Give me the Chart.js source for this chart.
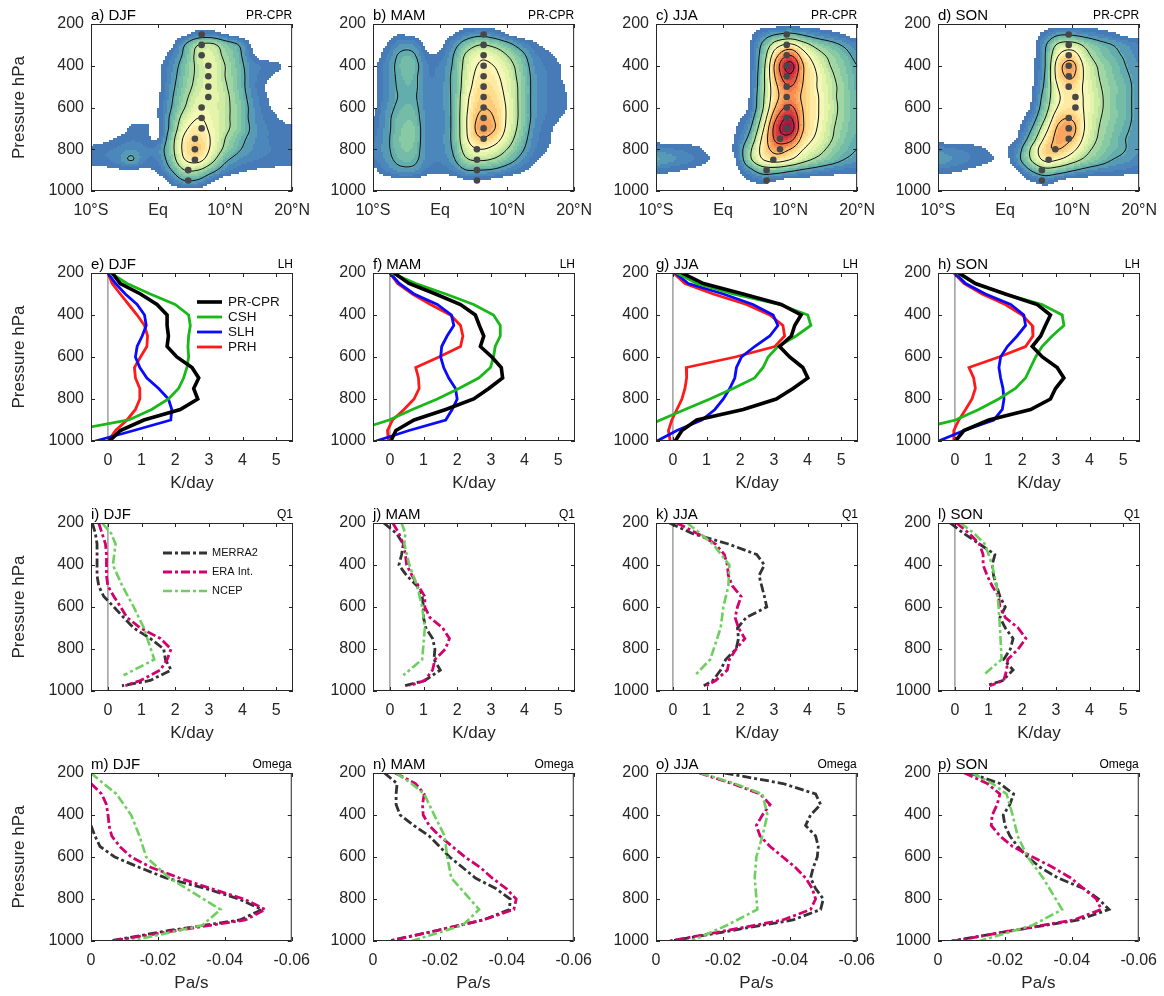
<!DOCTYPE html>
<html>
<head>
<meta charset="utf-8">
<title>PR-CPR, LH, Q1 and Omega profiles</title>
<script src="https://cdn.jsdelivr.net/npm/chart.js"></script>
<style>
  body { margin: 0; width: 1164px; height: 996px; overflow: hidden; background: #fff; position: relative; }
  canvas { position: absolute; }
</style>
</head>
<body>
<script>
// ---------------- data ----------------
const seasons = ['DJF', 'MAM', 'JJA', 'SON'];
const latGrid = [-10, -8, -6, -4, -2, 0, 2, 4, 6, 8, 10, 12, 14, 16, 18, 20];
const pLevels = [200, 250, 300, 350, 400, 450, 500, 550, 600, 650, 700, 750, 800, 850, 900, 950, 1000];

// PR-CPR heating (K/day), rows = pLevels, columns = latGrid
const fieldDJF = [
  [0,0,0,0,0,0,0,0,0,0,0,0,0,0,0,0],
  [0,0,0,0,0,0,0,0.1,0.5,0.5,0.2,0,0,0,0,0],
  [0,0,0,0,0,0,0.1,1.0,2.0,2.2,1.5,1.0,0.15,0,0,0],
  [0,0,0,0,0,0,0.4,1.2,2.3,2.5,1.8,1.2,0.3,0,0,0],
  [0,0,0,0,0,0.1,0.6,1.4,2.2,2.6,2.0,1.3,0.6,0.4,0.25,0],
  [0,0,0,0,0,0.1,0.7,1.5,2.2,2.6,2.0,1.4,0.6,0.3,0.1,0],
  [0,0,0,0,0,0.1,0.8,1.6,2.3,2.6,2.1,1.4,0.6,0.2,0,0],
  [0,0,0,0,0,0.15,0.9,1.8,2.5,2.6,2.2,1.5,0.7,0.25,0.05,0],
  [0,0,0,0,0,0.2,1.0,2.0,2.7,2.6,2.2,1.6,0.8,0.3,0.1,0],
  [0,0,0,0.1,0.1,0.2,1.2,2.4,3.0,2.7,2.2,1.6,0.8,0.4,0.2,0.1],
  [0,0,0,0.25,0.3,0.15,1.3,2.8,3.3,2.8,2.2,1.6,0.9,0.5,0.3,0.25],
  [0,0.1,0.25,0.4,0.35,0.2,1.6,3.2,3.6,2.9,2.0,1.3,0.8,0.5,0.3,0.3],
  [0.3,0.4,0.5,0.7,0.5,0.6,1.7,3.3,3.8,2.8,1.8,1.1,0.7,0.5,0.4,0.3],
  [0.3,0.4,0.6,1.05,0.5,0.5,1.5,3.0,3.3,2.3,1.2,0.7,0.5,0.4,0.3,0.3],
  [0.1,0.1,0.15,0.15,0.15,0.3,1.0,2.0,2.0,1.3,0.6,0.3,0.2,0.15,0.15,0.15],
  [0,0,0,0,0,0,0.4,1.0,0.9,0.3,0,0,0,0,0,0],
  [0,0,0,0,0,0,0,0,0,0,0,0,0,0,0,0]
];
const fieldMAM = [
  [0,0,0,0,0,0,0,0,0,0,0,0,0,0,0,0],
  [0,0,0.2,0.1,0,0,0.2,0.6,0.8,0.6,0.2,0,0,0,0,0],
  [0,0.2,0.7,0.7,0.1,0.1,0.7,1.5,2.0,1.8,1.3,0.7,0.3,0.1,0,0],
  [0,0.4,1.1,1.1,0.3,0.3,1.0,2.2,2.8,2.6,2.0,1.3,0.55,0.3,0.1,0],
  [0.1,0.6,1.2,1.3,0.5,0.5,1.1,2.4,3.1,3.0,2.4,1.6,0.7,0.4,0.2,0],
  [0.1,0.6,1.15,1.2,0.5,0.55,1.2,2.5,3.3,3.2,2.6,1.7,0.8,0.45,0.2,0],
  [0.1,0.6,1.1,1.15,0.6,0.6,1.2,2.6,3.5,3.4,2.7,1.8,0.8,0.45,0.3,0],
  [0.1,0.6,1.05,1.1,0.6,0.6,1.2,2.8,3.7,3.6,2.8,1.8,0.8,0.45,0.35,0],
  [0.1,0.7,1.15,1.2,0.6,0.6,1.2,2.9,3.9,3.8,2.9,1.8,0.8,0.45,0.35,0],
  [0.2,0.8,1.3,1.35,0.6,0.6,1.2,3.0,4.2,4.0,2.9,1.8,0.8,0.4,0.2,0],
  [0.3,0.8,1.4,1.5,0.6,0.6,1.2,3.0,4.4,4.1,2.8,1.7,0.7,0.3,0.1,0],
  [0.4,0.85,1.45,1.5,0.6,0.6,1.2,2.9,3.9,3.5,2.5,1.5,0.6,0.3,0,0],
  [0.5,0.85,1.4,1.4,0.6,0.6,1.1,2.5,3.0,2.7,2.0,1.2,0.5,0.2,0,0],
  [0.4,0.75,1.2,1.2,0.6,0.5,0.9,1.9,2.1,1.9,1.4,0.8,0.3,0.1,0,0],
  [0.1,0.5,0.8,0.8,0.4,0.3,0.5,1.0,1.0,0.9,0.6,0.3,0.1,0,0,0],
  [0,0,0.1,0.1,0,0,0,0.15,0.15,0.1,0,0,0,0,0,0],
  [0,0,0,0,0,0,0,0,0,0,0,0,0,0,0,0]
];
const fieldJJA = [
  [0,0,0,0,0,0,0,0,0,0,0,0,0,0,0,0],
  [0,0,0,0,0,0,0,0.1,0.6,1.0,1.2,0.9,0.6,0.4,0.2,0],
  [0,0,0,0,0,0,0,0.2,1.2,2.6,3.2,2.4,1.7,1.3,0.9,0.5],
  [0,0,0,0,0,0,0,0.2,1.5,3.8,5.0,3.4,2.4,1.8,1.3,0.8],
  [0,0,0,0,0,0,0,0.2,1.7,4.5,6.4,4.0,2.8,2.0,1.5,1.0],
  [0,0,0,0,0,0,0,0.2,1.8,4.3,5.8,4.0,3.0,2.2,1.6,1.1],
  [0,0,0,0,0,0,0,0.2,1.8,3.9,5.0,3.9,3.0,2.3,1.7,1.1],
  [0,0,0,0,0,0,0,0.25,1.9,3.8,4.6,3.8,3.1,2.3,1.7,1.2],
  [0,0,0,0,0,0,0,0.3,2.0,4.2,5.2,3.9,3.1,2.4,1.7,1.2],
  [0,0,0,0,0,0,0.1,0.6,2.4,5.0,6.1,4.0,3.1,2.3,1.7,1.2],
  [0,0,0,0,0,0,0.2,0.9,2.9,5.6,6.5,4.0,3.0,2.2,1.6,1.2],
  [0,0,0,0,0,0,0.3,1.3,3.3,5.3,5.4,3.6,2.8,2.1,1.5,1.1],
  [0.6,0.5,0.4,0.3,0.1,0,0.4,1.8,3.4,4.4,4.0,3.0,2.4,1.8,1.3,1.0],
  [1.0,0.8,0.6,0.4,0.2,0,0.25,1.8,3.0,3.4,3.0,2.3,1.8,1.4,1.0,0.8],
  [0.4,0.3,0.2,0.1,0,0,0.1,0.8,1.5,1.5,1.2,0.9,0.7,0.5,0.4,0.3],
  [0,0,0,0,0,0,0,0.2,0.4,0.2,0,0,0,0,0,0],
  [0,0,0,0,0,0,0,0,0,0,0,0,0,0,0,0]
];
const fieldSON = [
  [0,0,0,0,0,0,0,0,0,0,0,0,0,0,0,0],
  [0,0,0,0,0,0,0,0,0.4,0.9,0.9,0.7,0.5,0.3,0.1,0],
  [0,0,0,0,0,0,0,0,0.9,2.2,2.4,1.8,1.3,1.0,0.7,0.5],
  [0,0,0,0,0,0,0,0.05,1.0,3.0,3.5,2.3,1.6,1.2,0.9,0.6],
  [0,0,0,0,0,0,0,0.1,1.0,3.6,4.3,2.7,1.9,1.4,1.0,0.7],
  [0,0,0,0,0,0,0,0.1,1.1,3.5,4.1,2.8,2.0,1.5,1.1,0.8],
  [0,0,0,0,0,0,0,0.15,1.2,3.1,3.6,2.8,2.1,1.6,1.2,0.8],
  [0,0,0,0,0,0,0,0.2,1.4,2.9,3.3,2.9,2.2,1.6,1.2,0.8],
  [0,0,0,0,0,0,0,0.3,1.6,3.1,3.4,2.9,2.2,1.6,1.2,0.8],
  [0,0,0,0,0,0,0.05,0.6,2.0,3.7,3.9,2.9,2.1,1.6,1.2,0.8],
  [0,0,0,0,0,0,0.15,1.0,2.6,4.2,4.3,2.9,2.0,1.5,1.1,0.8],
  [0,0,0,0,0,0.05,0.3,1.5,3.2,4.3,4.0,2.7,1.9,1.4,1.0,0.8],
  [0.6,0.5,0.4,0.3,0.15,0.15,0.7,2.2,3.7,4.0,3.3,2.3,1.7,1.3,1.0,0.7],
  [0.9,0.7,0.5,0.35,0.22,0.05,0.8,2.1,3.2,3.0,2.4,1.8,1.4,1.0,0.8,0.6],
  [0.4,0.3,0.2,0.1,0,0,0.25,1.1,1.7,1.5,1.1,0.8,0.6,0.5,0.4,0.3],
  [0,0,0,0,0,0,0,0.25,0.5,0.2,0,0,0,0,0,0],
  [0,0,0,0,0,0,0,0,0,0,0,0,0,0,0,0]
];

// latitude of the maximum at each level (grey dots)
const dotLevels = [250, 300, 350, 400, 450, 500, 550, 600, 650, 700, 750, 800, 850, 900, 950];
const dotLatDJF = [6.5, 6.5, 6.5, 7.5, 7.5, 7.5, 7.5, 6.5, 6.5, 6.5, 5.5, 5.5, 5.5, 4.5, 4.5];
const dotLatMAM = [6.5, 6.5, 6.5, 6.5, 6.5, 6.5, 6.5, 6.5, 6.5, 6.5, 6.5, 5.5, 5.5, 5.5, 5.5];
const dotLatJJA = [9.5, 9.5, 9.5, 9.5, 9.5, 9.5, 9.5, 9.5, 9.5, 9.5, 8.5, 8.5, 7.5, 6.5, 6.5];
const dotLatSON = [9.5, 9.5, 9.5, 9.5, 9.5, 9.5, 10.5, 10.5, 9.5, 9.5, 9.5, 7.5, 6.5, 5.5, 5.5];

// latent heating profiles (K/day) on pLevels
const lhLabels = ['PR-CPR', 'CSH', 'SLH', 'PRH'];
const prcprDJF = [0.13,0.37,0.97,1.46,1.76,1.76,1.8,1.76,2.05,2.5,2.7,2.55,2.67,2.15,1.07,0.37,0.05];
const cshDJF   = [0.08,0.57,1.26,2.0,2.4,2.45,2.4,2.38,2.4,2.35,2.25,2.1,1.8,1.3,0.62,-1.1,null];
const slhDJF   = [0,0.23,0.52,0.87,1.09,1.14,1.02,0.87,0.82,0.95,1.16,1.51,1.8,1.9,1.87,0.77,-0.37];
const prhDJF   = [0,0.13,0.37,0.62,0.87,1.09,1.18,1.16,0.97,0.79,0.82,0.95,0.95,0.82,0.57,0.23,0.01];
const prcprMAM = [0.13,0.57,1.36,2.1,2.54,2.66,2.79,2.69,3.03,3.31,3.35,2.94,2.49,1.66,0.72,0.18,0.03];
const cshMAM   = [0.05,0.77,1.66,2.49,3.08,3.28,3.28,3.13,3.08,2.99,2.64,2.05,1.41,0.67,-0.02,-1.0,null];
const slhMAM   = [0,0.28,0.72,1.41,1.83,1.9,1.7,1.54,1.51,1.6,1.75,1.95,2.0,1.85,1.66,0.57,-0.41];
const prhMAM   = [0,0.23,0.67,1.21,1.8,2.1,2.17,2.1,1.46,0.77,0.85,0.87,0.72,0.42,0.08,-0.07,-0.04];
const prcprJJA = [0.27,0.91,2.09,3.22,3.81,3.62,3.52,3.17,3.47,3.86,4.01,3.57,3.07,2.09,0.71,0.27,0.07];
const cshJJA   = [0.12,0.71,1.79,3.17,4.01,4.1,3.66,3.12,2.83,2.68,2.43,1.79,1.1,0.36,-0.37,-1.1,null];
const slhJJA   = [0.07,0.46,1.5,2.38,2.98,3.12,2.88,2.43,2.04,1.89,1.84,1.69,1.5,1.25,0.86,0.12,-0.47];
const prhJJA   = [0.02,0.36,1.2,2.19,2.88,3.27,3.32,3.03,1.85,0.4,0.41,0.36,0.27,0.12,-0.03,-0.13,-0.08];
const prcprSON = [0.12,0.61,1.5,2.45,2.84,2.69,2.55,2.3,2.6,3.04,3.24,2.99,2.84,2.25,1.01,0.27,0.02];
const cshSON   = [0.07,0.61,1.5,2.59,3.19,3.24,2.89,2.59,2.4,2.25,2.1,1.8,1.3,0.71,0.02,-1.28,null];
const slhSON   = [0,0.32,0.91,1.66,2.05,2.1,1.85,1.56,1.36,1.31,1.36,1.43,1.46,1.41,1.16,0.27,-0.48];
const prhSON   = [-0.03,0.27,0.81,1.5,2.0,2.3,2.32,2.1,1.31,0.42,0.56,0.61,0.51,0.32,0.12,-0.03,-0.03];

// reanalysis Q1 (K/day) and omega (Pa/s)
const reanLabels = ['MERRA2', 'ERA Int.', 'NCEP'];
const q1Levels = [200, 250, 300, 350, 400, 450, 500, 550, 600, 650, 700, 750, 800, 850, 900, 950, 975];
const ncepLevels = [200, 250, 300, 400, 500, 600, 700, 850, 925];
const ncepOmegaLevels = [200, 250, 300, 400, 500, 600, 700, 850, 925, 1000];

const merraQ1DJF = [-0.46,-0.37,-0.32,-0.32,-0.32,-0.32,-0.27,-0.12,0.18,0.47,0.77,1.26,1.66,1.71,1.88,1.26,0.42];
const eraQ1DJF   = [-0.27,-0.17,-0.07,-0.04,-0.04,-0.04,0,0.18,0.38,0.57,0.97,1.56,1.88,1.76,1.56,0.97,0.52];
const ncepQ1DJF  = [-0.17,0.1,0.23,0.15,0.43,0.77,1.07,1.38,0.47];
const merraQ1MAM = [-0.18,0.2,0.4,0.35,0.27,0.5,0.81,0.96,1.0,1.0,1.07,1.27,1.34,1.31,1.5,1.04,0.43];
const eraQ1MAM   = [0.09,0.27,0.4,0.46,0.5,0.66,0.85,1.04,1.04,1.19,1.57,1.77,1.65,1.34,1.27,1.04,0.58];
const ncepQ1MAM  = [0.35,0.46,0.43,0.58,0.81,0.96,1.04,0.96,0.4];
const merraQ1JJA = [-0.1,0.58,1.65,2.49,2.72,2.56,2.64,2.72,2.79,2.18,1.92,1.95,1.88,1.57,1.42,1.19,0.92];
const eraQ1JJA   = [0.12,0.73,1.27,1.53,1.62,1.65,1.77,2.03,1.92,1.85,1.95,2.14,1.88,1.68,1.62,1.27,1.0];
const ncepQ1JJA  = [0.43,0.81,1.19,1.68,1.65,1.5,1.42,1.11,0.66];
const merraQ1SON = [-0.14,0.27,0.73,1.19,1.11,1.15,1.24,1.34,1.5,1.34,1.5,1.73,1.65,1.45,1.73,1.42,0.93];
const eraQ1SON   = [0.05,0.43,0.73,0.84,0.84,0.96,1.11,1.3,1.34,1.5,1.88,2.11,1.88,1.57,1.54,1.45,1.04];
const ncepQ1SON  = [0.17,0.58,0.89,1.11,1.24,1.3,1.34,1.39,0.84];

const merraOmDJF = [null,null,null,null,null,0,-0.0012,-0.0027,-0.0071,-0.0145,-0.0224,-0.0343,-0.0442,-0.0511,-0.0445,-0.0234,-0.0056];
const eraOmDJF   = [null,0,-0.0032,-0.0046,-0.0051,-0.0054,-0.0062,-0.0086,-0.012,-0.018,-0.0264,-0.0358,-0.0457,-0.0521,-0.0461,-0.0254,-0.0061];
const ncepOmDJF  = [0,-0.0037,-0.0076,-0.012,-0.0145,-0.0165,-0.0234,-0.0387,-0.0333,-0.012];
const merraOmMAM = [-0.0034,-0.0072,-0.0069,-0.0069,-0.0081,-0.0122,-0.0168,-0.0199,-0.0229,-0.0268,-0.0306,-0.0367,-0.041,-0.0408,-0.0329,-0.0191,-0.0046];
const eraOmMAM   = [-0.0066,-0.0127,-0.0153,-0.0148,-0.015,-0.0168,-0.0199,-0.0237,-0.0275,-0.0321,-0.0356,-0.0398,-0.0428,-0.0421,-0.0329,-0.0191,-0.005];
const ncepOmMAM  = [-0.0069,-0.0115,-0.0153,-0.0183,-0.0214,-0.0222,-0.0234,-0.0317,-0.0268,-0.0115];
const merraOmJJA = [-0.0205,-0.0379,-0.0477,-0.0492,-0.0462,-0.0447,-0.0477,-0.0485,-0.0482,-0.047,-0.0462,-0.0477,-0.05,-0.0492,-0.0409,-0.0227,-0.0045];
const eraOmJJA   = [-0.0129,-0.0227,-0.0311,-0.0341,-0.0318,-0.03,-0.0311,-0.0341,-0.0379,-0.0417,-0.0447,-0.0467,-0.0477,-0.0462,-0.0379,-0.0212,-0.0042];
const ncepOmJJA  = [-0.0133,-0.0235,-0.0318,-0.0333,-0.0318,-0.03,-0.0295,-0.0303,-0.0212,-0.0106];
const merraOmSON = [-0.0094,-0.0185,-0.0226,-0.0215,-0.0195,-0.02,-0.0215,-0.0238,-0.0268,-0.0306,-0.0359,-0.0435,-0.048,-0.0511,-0.042,-0.0223,-0.0041];
const eraOmSON   = [-0.0079,-0.0147,-0.0185,-0.0177,-0.0162,-0.0159,-0.0185,-0.0223,-0.0283,-0.0344,-0.0397,-0.0435,-0.0473,-0.0488,-0.0405,-0.0223,-0.0048];
const ncepOmSON  = [-0.0102,-0.0162,-0.0205,-0.0223,-0.0238,-0.0268,-0.0314,-0.0371,-0.0283,-0.0124];

// ticks
const pressureTicks = [200, 400, 600, 800, 1000];
const pressureTickLabels = ['200', '400', '600', '800', '1000'];
const latTicks = [-10, 0, 10, 20];
const latTickLabels = ['10°S', 'Eq', '10°N', '20°N'];
const heatTicks = [0, 1, 2, 3, 4, 5];
const heatTickLabels = ['0', '1', '2', '3', '4', '5'];
const omegaTicks = [0, -0.02, -0.04, -0.06];
const omegaTickLabels = ['0', '-0.02', '-0.04', '-0.06'];

// ---------------- styles / layout ----------------
const FONT = '"Liberation Sans", Arial, Helvetica, sans-serif';
const TXT = '#262626';
const colLeft = [91, 373, 656, 938];
const rowTop = [24, 273, 523, 773];
const rowPlotH = [167, 168, 168, 168];
const AXIS_W = 91, XAXIS_H = 56, TOP_PAD = 24, CANVAS_W = 320, PLOT_W = 202;

const rampStops = [0.2, 0.6, 1.0, 1.5, 2.0, 2.5, 3.0, 3.5, 4.0, 4.5, 5.0, 5.5, 6.0, 6.5];
const rampRGB = [[69,117,180],[76,136,189],[94,168,176],[128,199,164],[176,222,163],[224,243,166],
  [253,250,192],[254,226,146],[252,191,111],[248,150,86],[238,106,66],[219,66,60],[194,36,70],[165,15,70]];
const FILL_MIN = 0.2, FILL_STEP = 0.25;
const contourLevels = [1, 2, 3, 4, 5, 6];

const lhStyles = [
  { color: '#000000', width: 3.6 },
  { color: '#17b817', width: 2.8 },
  { color: '#0a0aff', width: 2.8 },
  { color: '#ff1a1a', width: 2.8 }
];
const reanStyles = [
  { color: '#333333', width: 2.8, dash: [9, 3, 3, 3] },
  { color: '#d4006e', width: 2.8, dash: [9, 3, 3, 3] },
  { color: '#6dd05e', width: 2.6, dash: [9, 3, 3, 3] }
];

function rampColor(v) {
  let c = rampRGB[rampRGB.length - 1];
  if (v <= rampStops[0]) c = rampRGB[0];
  else {
    for (let k = 1; k < rampStops.length; k++) {
      if (v <= rampStops[k]) {
        const t = (v - rampStops[k - 1]) / (rampStops[k] - rampStops[k - 1]);
        const a = rampRGB[k - 1], b = rampRGB[k];
        c = [0, 1, 2].map(i => Math.round(a[i] + (b[i] - a[i]) * t));
        break;
      }
    }
  }
  return 'rgb(' + c.join(',') + ')';
}

function cubic(p0, p1, p2, p3, t) {
  return p1 + 0.5 * t * (p2 - p0 + t * (2 * p0 - 5 * p1 + 4 * p2 - p3 + t * (3 * (p1 - p2) + p3 - p0)));
}

// smooth sample of a gridded field at (lat, p)
function sampleField(grid, lat, p) {
  const nr = grid.length, nc = grid[0].length;
  const fx = (lat - latGrid[0]) / (latGrid[1] - latGrid[0]);
  const fy = (p - pLevels[0]) / (pLevels[1] - pLevels[0]);
  const ix = Math.floor(fx), iy = Math.floor(fy);
  const tx = fx - ix, ty = fy - iy;
  const get = (r, c) => grid[Math.max(0, Math.min(nr - 1, r))][Math.max(0, Math.min(nc - 1, c))];
  const rows = [];
  for (let m = -1; m <= 2; m++) {
    rows.push(cubic(get(iy + m, ix - 1), get(iy + m, ix), get(iy + m, ix + 1), get(iy + m, ix + 2), tx));
  }
  return cubic(rows[0], rows[1], rows[2], rows[3], ty);
}

const fieldPlugin = {
  id: 'field',
  beforeDatasetsDraw(chart, args, opts) {
    if (!opts.grid) return;
    const { ctx, chartArea: a, scales: { x, y } } = chart;
    const step = 2;
    const nx = Math.ceil(a.width / step) + 1, ny = Math.ceil(a.height / step) + 1;
    const vals = [];
    for (let j = 0; j < ny; j++) {
      const p = y.getValueForPixel(Math.min(a.top + j * step, a.bottom));
      const row = [];
      for (let i = 0; i < nx; i++) {
        const lat = x.getValueForPixel(Math.min(a.left + i * step, a.right));
        row.push(sampleField(opts.grid, lat, p));
      }
      vals.push(row);
    }
    ctx.save();
    ctx.beginPath();
    ctx.rect(a.left, a.top, a.width, a.height);
    ctx.clip();
    for (let j = 0; j < ny - 1; j++) {
      for (let i = 0; i < nx - 1; i++) {
        const v = (vals[j][i] + vals[j][i + 1] + vals[j + 1][i] + vals[j + 1][i + 1]) / 4;
        if (v < FILL_MIN) continue;
        const lvl = FILL_MIN + Math.floor((v - FILL_MIN) / FILL_STEP) * FILL_STEP + FILL_STEP / 2;
        ctx.fillStyle = rampColor(lvl);
        ctx.fillRect(a.left + i * step, a.top + j * step, step, step);
      }
    }
    // contour lines (marching squares on the sampled field)
    ctx.strokeStyle = '#111';
    ctx.lineWidth = 1;
    contourLevels.forEach(level => {
      ctx.beginPath();
      for (let j = 0; j < ny - 1; j++) {
        for (let i = 0; i < nx - 1; i++) {
          const v0 = vals[j][i], v1 = vals[j][i + 1], v2 = vals[j + 1][i + 1], v3 = vals[j + 1][i];
          const X = a.left + i * step, Y = a.top + j * step;
          const pts = [];
          if ((v0 >= level) !== (v1 >= level)) pts.push([X + step * (level - v0) / (v1 - v0), Y]);
          if ((v1 >= level) !== (v2 >= level)) pts.push([X + step, Y + step * (level - v1) / (v2 - v1)]);
          if ((v3 >= level) !== (v2 >= level)) pts.push([X + step * (level - v3) / (v2 - v3), Y + step]);
          if ((v0 >= level) !== (v3 >= level)) pts.push([X, Y + step * (level - v0) / (v3 - v0)]);
          for (let k = 0; k + 1 < pts.length; k += 2) {
            ctx.moveTo(pts[k][0], pts[k][1]);
            ctx.lineTo(pts[k + 1][0], pts[k + 1][1]);
          }
        }
      }
      ctx.stroke();
    });
    ctx.restore();
  }
};

// axes box with inward tick marks (MATLAB look)
const framePlugin = {
  id: 'frame',
  afterDatasetsDraw(chart) {
    const { ctx, chartArea: a, scales: { x, y } } = chart;
    const tl = 4;
    ctx.save();
    ctx.strokeStyle = TXT;
    ctx.lineWidth = 1;
    ctx.strokeRect(a.left + 0.5, a.top + 0.5, a.width - 1, a.height - 1);
    ctx.beginPath();
    x.ticks.forEach(t => {
      const px = Math.round(x.getPixelForValue(t.value)) + 0.5;
      ctx.moveTo(px, a.bottom); ctx.lineTo(px, a.bottom - tl);
      ctx.moveTo(px, a.top); ctx.lineTo(px, a.top + tl);
    });
    y.ticks.forEach(t => {
      const py = Math.round(y.getPixelForValue(t.value)) + 0.5;
      ctx.moveTo(a.left, py); ctx.lineTo(a.left + tl, py);
      ctx.moveTo(a.right, py); ctx.lineTo(a.right - tl, py);
    });
    ctx.stroke();
    ctx.restore();
  }
};

const panelTextPlugin = {
  id: 'panelText',
  afterDraw(chart, args, o) {
    const { ctx, chartArea: a } = chart;
    ctx.save();
    ctx.fillStyle = '#000';
    ctx.textBaseline = 'middle';
    ctx.font = '15px ' + FONT;
    ctx.textAlign = 'left';
    ctx.fillText(o.left, a.left, a.top - 8.5);
    ctx.font = '12px ' + FONT;
    ctx.textAlign = 'right';
    ctx.fillText(o.right, a.right, a.top - 8.5);
    ctx.restore();
  }
};

const profileLegendPlugin = {
  id: 'profileLegend',
  afterDatasetsDraw(chart, args, o) {
    if (!o.show) return;
    const { ctx, chartArea: a } = chart;
    ctx.save();
    ctx.font = o.font;
    ctx.textBaseline = 'middle';
    ctx.textAlign = 'left';
    let row = 0;
    chart.data.datasets.forEach(ds => {
      if (!ds.label) return;
      const yy = a.top + o.top + row * o.gap;
      ctx.save();
      ctx.strokeStyle = ds.borderColor;
      ctx.lineWidth = ds.borderWidth;
      ctx.setLineDash(ds.borderDash || []);
      ctx.beginPath();
      ctx.moveTo(a.left + o.lineFrom, yy);
      ctx.lineTo(a.left + o.lineTo, yy);
      ctx.stroke();
      ctx.restore();
      ctx.fillStyle = '#111';
      ctx.fillText(ds.label, a.left + o.textAt, yy);
      row++;
    });
    ctx.restore();
  }
};

Chart.register(fieldPlugin, framePlugin, panelTextPlugin, profileLegendPlugin);

function profile(values, levels) {
  const pts = [];
  values.forEach((v, i) => { if (v !== null) pts.push({ x: v, y: levels[i] }); });
  return pts;
}

function lineSet(label, values, levels, style, order) {
  return {
    label: label,
    data: profile(values, levels),
    showLine: true,
    borderColor: style.color,
    borderWidth: style.width,
    borderDash: style.dash || [],
    pointRadius: 0,
    fill: false,
    tension: 0,
    order: order
  };
}

function zeroLine() {
  return {
    label: '',
    data: [{ x: 0, y: 200 }, { x: 0, y: 1000 }],
    showLine: true, borderColor: '#a8a8a8', borderWidth: 1, pointRadius: 0, order: 99
  };
}

function makePanel(col, row, cfg) {
  const canvas = document.createElement('canvas');
  const h = TOP_PAD + rowPlotH[row] + XAXIS_H;
  canvas.width = CANVAS_W; canvas.height = h;
  canvas.style.width = CANVAS_W + 'px'; canvas.style.height = h + 'px';
  canvas.style.left = (colLeft[col] - AXIS_W) + 'px';
  canvas.style.top = (rowTop[row] - TOP_PAD) + 'px';
  document.body.appendChild(canvas);
  const letter = 'abcdefghijklmnop'[row * 4 + col];
  new Chart(canvas, {
    type: 'scatter',
    data: { datasets: cfg.datasets },
    options: {
      responsive: false,
      animation: false,
      devicePixelRatio: 1,
      layout: { padding: { left: 0, top: TOP_PAD, right: CANVAS_W - AXIS_W - PLOT_W, bottom: 0 } },
      plugins: {
        legend: { display: false },
        tooltip: { enabled: false },
        panelText: { left: letter + ') ' + seasons[col], right: cfg.tag },
        field: { grid: cfg.grid || null },
        profileLegend: cfg.legend || { show: false }
      },
      scales: {
        x: {
          type: 'linear', min: cfg.xMin, max: cfg.xMax, reverse: !!cfg.xReverse,
          grid: { display: false, drawTicks: false }, border: { display: false },
          afterBuildTicks: s => { s.ticks = cfg.xTicks.map(v => ({ value: v })); },
          afterFit: s => { s.height = XAXIS_H; },
          ticks: {
            autoSkip: false, maxRotation: 0, padding: 10, color: TXT,
            font: { family: FONT, size: 16 },
            callback: (v, i) => cfg.xLabels[i]
          },
          title: {
            display: !!cfg.xTitle, text: cfg.xTitle || '', color: TXT,
            font: { family: FONT, size: 17 }, padding: { top: 0, bottom: 3 }
          }
        },
        y: {
          type: 'linear', min: 200, max: 1000, reverse: true,
          grid: { display: false, drawTicks: false }, border: { display: false },
          afterBuildTicks: s => { s.ticks = pressureTicks.map(v => ({ value: v })); },
          afterFit: s => { s.width = AXIS_W; },
          ticks: {
            autoSkip: false, padding: 7, color: TXT, font: { family: FONT, size: 16 },
            callback: (v, i) => pressureTickLabels[i]
          },
          title: {
            display: col === 0, text: 'Pressure hPa', color: TXT,
            font: { family: FONT, size: 17 }, padding: { top: 9, bottom: 0 }
          }
        }
      }
    }
  });
}

// ---------------- build panels ----------------
const fields = [fieldDJF, fieldMAM, fieldJJA, fieldSON];
const dotLats = [dotLatDJF, dotLatMAM, dotLatJJA, dotLatSON];
const lhData = [
  [prcprDJF, cshDJF, slhDJF, prhDJF],
  [prcprMAM, cshMAM, slhMAM, prhMAM],
  [prcprJJA, cshJJA, slhJJA, prhJJA],
  [prcprSON, cshSON, slhSON, prhSON]
];
const q1Data = [
  [merraQ1DJF, eraQ1DJF, ncepQ1DJF],
  [merraQ1MAM, eraQ1MAM, ncepQ1MAM],
  [merraQ1JJA, eraQ1JJA, ncepQ1JJA],
  [merraQ1SON, eraQ1SON, ncepQ1SON]
];
const omegaData = [
  [merraOmDJF, eraOmDJF, ncepOmDJF],
  [merraOmMAM, eraOmMAM, ncepOmMAM],
  [merraOmJJA, eraOmJJA, ncepOmJJA],
  [merraOmSON, eraOmSON, ncepOmSON]
];

for (let c = 0; c < 4; c++) {
  // row 1: PR-CPR latitude-pressure section
  makePanel(c, 0, {
    tag: 'PR-CPR', grid: fields[c],
    xMin: -10, xMax: 20, xTicks: latTicks, xLabels: latTickLabels,
    datasets: [{
      label: '',
      data: dotLats[c].map((lat, i) => ({ x: lat, y: dotLevels[i] })),
      pointRadius: 3.3, backgroundColor: '#474747', borderWidth: 0
    }]
  });

  // row 2: latent heating
  makePanel(c, 1, {
    tag: 'LH', xMin: -0.5, xMax: 5.5, xTicks: heatTicks, xLabels: heatTickLabels, xTitle: 'K/day',
    datasets: lhData[c].map((vals, k) => lineSet(lhLabels[k], vals, pLevels, lhStyles[k], k)).concat([zeroLine()]),
    legend: c === 0 ? { show: true, font: '13.5px ' + FONT, top: 29, gap: 15, lineFrom: 106, lineTo: 131, textAt: 137 } : { show: false }
  });

  // row 3: Q1
  makePanel(c, 2, {
    tag: 'Q1', xMin: -0.5, xMax: 5.5, xTicks: heatTicks, xLabels: heatTickLabels, xTitle: 'K/day',
    datasets: [
      lineSet(reanLabels[0], q1Data[c][0], q1Levels, reanStyles[0], 3),
      lineSet(reanLabels[1], q1Data[c][1], q1Levels, reanStyles[1], 2),
      lineSet(reanLabels[2], q1Data[c][2], ncepLevels, reanStyles[2], 1),
      zeroLine()
    ],
    legend: c === 0 ? { show: true, font: '11px ' + FONT, top: 30, gap: 19, lineFrom: 72, lineTo: 116, textAt: 121 } : { show: false }
  });

  // row 4: omega
  makePanel(c, 3, {
    tag: 'Omega', xMin: -0.06, xMax: 0, xReverse: true, xTicks: omegaTicks, xLabels: omegaTickLabels, xTitle: 'Pa/s',
    datasets: [
      lineSet(reanLabels[0], omegaData[c][0], pLevels, reanStyles[0], 3),
      lineSet(reanLabels[1], omegaData[c][1], pLevels, reanStyles[1], 2),
      lineSet(reanLabels[2], omegaData[c][2], ncepOmegaLevels, reanStyles[2], 1)
    ]
  });
}
</script>
</body>
</html>
